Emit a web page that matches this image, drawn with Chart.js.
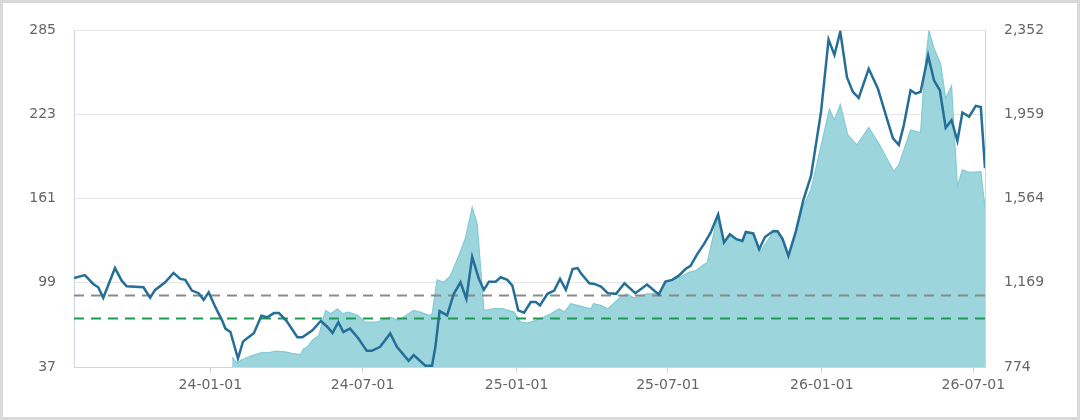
<!DOCTYPE html>
<html>
<head>
<meta charset="utf-8">
<script src="https://cdn.jsdelivr.net/npm/chart.js@4.4.1/dist/chart.umd.min.js"></script>
<style>
  html, body { margin: 0; padding: 0; background: #ffffff; }
  #wrap { width: 1080px; height: 420px; box-sizing: border-box; border: 3px solid #d9d9d9; background: #fff; }
  #c { display: block; }
</style>
</head>
<body>
<div id="wrap"><canvas id="c" width="1074" height="414"></canvas></div>
<script>
// ---- Data (left axis line series) ----
const lineDates = [
  '2023-07-22','2023-08-04','2023-08-14','2023-08-20','2023-08-26','2023-09-09','2023-09-17','2023-09-23',
  '2023-10-13','2023-10-21','2023-10-27','2023-11-08','2023-11-18','2023-11-26','2023-12-02','2023-12-10',
  '2023-12-18','2023-12-24','2023-12-30','2024-01-07','2024-01-15','2024-01-19','2024-01-25','2024-02-03',
  '2024-02-09','2024-02-14','2024-02-22','2024-03-02','2024-03-09','2024-03-17','2024-03-23','2024-04-01',
  '2024-04-14','2024-04-20','2024-05-02','2024-05-12','2024-05-20','2024-05-26','2024-06-02','2024-06-08',
  '2024-06-16','2024-06-26','2024-07-06','2024-07-12','2024-07-22','2024-08-03','2024-08-11','2024-08-25',
  '2024-08-31','2024-09-14','2024-09-22','2024-09-26','2024-10-01','2024-10-10','2024-10-18','2024-10-26',
  '2024-11-02','2024-11-09','2024-11-17','2024-11-23','2024-11-29','2024-12-07','2024-12-13','2024-12-21',
  '2024-12-27','2025-01-03','2025-01-10','2025-01-18','2025-01-24','2025-01-29','2025-02-07','2025-02-15',
  '2025-02-22','2025-03-01','2025-03-09','2025-03-15','2025-03-19','2025-03-29','2025-04-04','2025-04-12',
  '2025-04-20','2025-04-30','2025-05-10','2025-05-23','2025-06-06','2025-06-20','2025-06-28','2025-07-06',
  '2025-07-14','2025-07-22','2025-07-28','2025-08-05','2025-08-13','2025-08-21','2025-08-30','2025-09-06',
  '2025-09-13','2025-09-21','2025-09-28','2025-10-02','2025-10-11','2025-10-18','2025-10-25','2025-11-04',
  '2025-11-09','2025-11-15','2025-11-22','2025-12-01','2025-12-10','2025-12-19','2025-12-31','2026-01-09',
  '2026-01-16','2026-01-23','2026-01-31','2026-02-07','2026-02-14','2026-02-26','2026-03-09','2026-03-19',
  '2026-03-27','2026-04-03','2026-04-09','2026-04-17','2026-04-23','2026-04-29','2026-05-08','2026-05-15',
  '2026-05-22','2026-05-29','2026-06-05','2026-06-12','2026-06-18','2026-06-26','2026-07-04','2026-07-10',
  '2026-07-15'
];
const lineValues = [
  102.5,104.7,98.2,95.7,88.0,109.9,100.6,96.5,
  95.7,88.0,93.8,99.4,106.3,101.9,101.2,93.3,
  91.4,86.5,92.1,81.1,71.4,65.3,62.8,43.2,
  55.7,58.2,61.9,74.7,73.6,76.7,76.7,71.0,
  58.9,58.9,64.1,70.9,66.5,62.1,70.1,62.8,
  65.3,58.0,48.9,48.9,51.9,61.7,51.9,41.6,
  45.8,38.0,38.0,51.9,78.2,75.0,90.9,99.4,
  87.3,118.2,101.9,93.8,99.9,99.9,103.1,101.2,
  97.0,78.7,77.0,84.8,84.8,82.4,90.9,93.3,
  101.9,93.8,109.2,109.9,106.0,98.7,98.2,96.3,
  91.4,90.9,98.7,91.4,97.7,90.4,99.9,101.2,
  104.3,109.2,111.6,120.2,127.5,136.0,149.4,128.7,
  134.8,131.2,129.9,136.5,135.5,123.8,132.8,137.2,
  137.0,131.4,118.9,137.2,160.3,177.8,225.0,278.2,
  266.9,284.1,250.6,239.7,235.3,256.7,242.1,221.4,
  205.5,200.7,215.3,240.9,238.4,239.7,266.5,248.2,
  240.9,213.3,218.9,203.6,224.5,221.4,229.4,228.5,
  183.5
];

// ---- Data (right axis area series) ----
const areaDates = [
  '2024-01-27','2024-02-02','2024-02-07','2024-02-20','2024-03-03','2024-03-09','2024-03-20','2024-03-30',
  '2024-04-08','2024-04-18','2024-04-21','2024-04-26','2024-05-02','2024-05-10','2024-05-14','2024-05-18',
  '2024-05-24','2024-06-01','2024-06-07','2024-06-14','2024-06-25','2024-07-04','2024-07-18','2024-08-03',
  '2024-08-13','2024-08-19','2024-08-31','2024-09-08','2024-09-18','2024-09-22','2024-09-28','2024-10-06',
  '2024-10-14','2024-10-24','2024-11-01','2024-11-09','2024-11-15','2024-11-23','2024-12-05','2024-12-15',
  '2024-12-29','2025-01-06','2025-01-14','2025-01-24','2025-02-03','2025-02-11','2025-02-21','2025-02-27',
  '2025-03-07','2025-03-15','2025-03-23','2025-03-31','2025-04-03','2025-04-12','2025-04-20','2025-04-27',
  '2025-05-05','2025-05-13','2025-05-21','2025-05-29','2025-06-06','2025-06-20','2025-06-28','2025-07-14',
  '2025-07-26','2025-08-03','2025-08-11','2025-08-17','2025-08-29','2025-09-06','2025-09-13','2025-09-21',
  '2025-09-28','2025-10-02','2025-10-11','2025-10-20','2025-11-05','2025-11-13','2025-11-22','2025-11-29',
  '2025-12-09','2025-12-19','2025-12-29','2026-01-10','2026-01-16','2026-01-23','2026-02-01','2026-02-12',
  '2026-02-26','2026-03-10','2026-03-28','2026-04-03','2026-04-13','2026-04-17','2026-04-29','2026-05-04',
  '2026-05-09','2026-05-15','2026-05-23','2026-05-29','2026-06-05','2026-06-12','2026-06-18','2026-06-26',
  '2026-07-10','2026-07-15'
];
const areaValues = [
  820.6,791,806.6,827.5,842.4,840.6,848.5,845.2,
  837.8,832.2,857.8,868.5,899.7,923,992.8,1039.3,
  1024,1047.2,1024,1031.4,1016,984.9,984.9,1008.2,
  992.8,1008.2,1039.3,1031.4,1016,1020.7,1182.2,1171.1,
  1202.3,1295.4,1380.5,1522,1444.3,1039.3,1047.2,1047.2,
  1031.4,984.9,980.2,992.8,1008.2,1024,1047.2,1031.4,
  1070.5,1062.6,1054.7,1047.2,1070.5,1062.6,1047.2,1070.5,
  1101.2,1117.1,1098.5,1104.5,1117.1,1117.1,1174.3,1191.5,
  1217.6,1225.5,1248.8,1264.2,1473.6,1351.2,1388.5,1367.5,
  1360.5,1400.1,1395.4,1318.6,1411.7,1380.5,1304.7,1365.2,
  1520.2,1605.8,1776.2,1982.9,1931.7,2004.3,1861.9,1815.3,
  1895.9,1822.8,1691,1722.2,1838.6,1885.1,1872.6,2171.9,
  2350.6,2268.3,2195.2,2032.2,2091.4,1621.2,1698.9,1686.4,
  1689.6,1520.2
];

// ---- Reference levels (left axis) ----
const refLevels = [89.7, 72.8];
const refColors = ['#8a8a8a', '#1f9a55'];

// ---- Axis ticks ----
const leftTicks = [37, 99, 161, 223, 285];
const rightMin = 774, rightMax = 2352;
const rightTickLabels = ['774', '1,169', '1,564', '1,959', '2,352'];
const xTickDates = ['2024-01-01','2024-07-01','2025-01-01','2025-07-01','2026-01-01','2026-07-01'];
const xTickLabels = ['24-01-01','24-07-01','25-01-01','25-07-01','26-01-01','26-07-01'];

// ---- helpers ----
function dayNum(s) {
  const p = s.split('-').map(Number);
  return Date.UTC(p[0], p[1] - 1, p[2]) / 86400000;
}
const xMin = dayNum(lineDates[0]);
const xMax = dayNum(lineDates[lineDates.length - 1]);

const linePts = lineDates.map((d, i) => ({ x: dayNum(d), y: lineValues[i] }));
const areaPts = areaDates.map((d, i) => ({ x: dayNum(d), y: areaValues[i] }));

const FONT = { family: 'DejaVu Sans', size: 14 };
const AXIS = '#ccd6eb';

const datasets = [
  {
    label: 'line', data: linePts, yAxisID: 'yL', order: 1,
    borderColor: '#246e97', borderWidth: 2.5, pointRadius: 0, tension: 0, fill: false
  },
  {
    label: 'area', data: areaPts, yAxisID: 'yR', order: 10,
    borderColor: '#82ccd5', borderWidth: 1.2, backgroundColor: '#9dd5dd',
    pointRadius: 0, tension: 0, fill: 'start'
  }
];
refLevels.forEach((v, i) => {
  datasets.push({
    label: 'ref' + i, data: [{ x: xMin, y: v }, { x: xMax, y: v }], yAxisID: 'yL', order: 5,
    borderColor: refColors[i], borderWidth: 2, borderDash: [10, 7], pointRadius: 0, fill: false
  });
});

new Chart(document.getElementById('c'), {
  type: 'line',
  data: { datasets },
  options: {
    responsive: false,
    animation: false,
    layout: { padding: { top: 25, left: 0, right: 0, bottom: 0 } },
    plugins: { legend: { display: false }, tooltip: { enabled: false } },
    scales: {
      x: {
        type: 'linear', min: xMin, max: xMax,
        afterBuildTicks: (s) => { s.ticks = xTickDates.map(d => ({ value: dayNum(d) })); },
        afterFit: (s) => { s.height = 50; },
        grid: { drawOnChartArea: false, drawTicks: true, tickLength: 6, color: AXIS },
        border: { color: AXIS, width: 1 },
        ticks: { color: '#666666', font: FONT, padding: 4, maxRotation: 0, autoSkip: false,
                 callback: (v, i) => xTickLabels[i] }
      },
      yL: {
        position: 'left', min: 37, max: 285,
        afterBuildTicks: (s) => { s.ticks = leftTicks.map(v => ({ value: v })); },
        afterFit: (s) => { s.width = 71; },
        grid: { color: '#e6e6e6', drawTicks: false, lineWidth: 1 },
        border: { color: AXIS, width: 1 },
        ticks: { color: '#666666', font: FONT, padding: 18, callback: (v) => String(v) }
      },
      yR: {
        position: 'right', min: rightMin, max: rightMax,
        afterBuildTicks: (s) => {
          const n = rightTickLabels.length;
          s.ticks = rightTickLabels.map((_, i) => ({ value: rightMin + (rightMax - rightMin) * i / (n - 1) }));
        },
        afterFit: (s) => { s.width = 92; },
        grid: { drawOnChartArea: false, drawTicks: false },
        border: { color: AXIS, width: 1 },
        ticks: { color: '#666666', font: FONT, padding: 19, callback: (v, i) => rightTickLabels[i] }
      }
    }
  }
});
</script>
</body>
</html>
